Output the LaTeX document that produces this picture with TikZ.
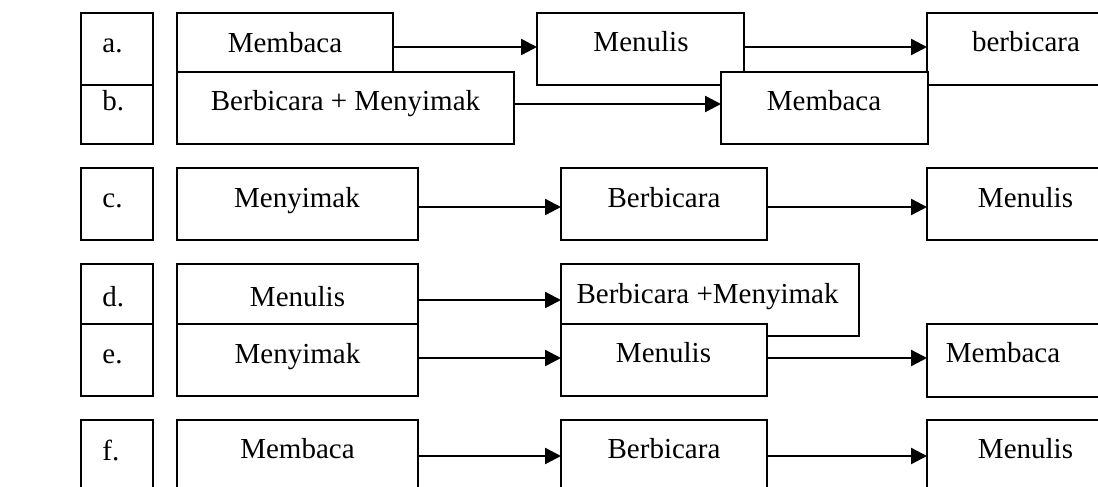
\documentclass[tikz,border=0pt]{standalone}
\usepackage{fontspec}
\setmainfont{Liberation Serif}
\usetikzlibrary{arrows.meta,calc}
\tikzset{
  bx/.style 2 args={draw, fill=white, line width=1.1pt, inner sep=0pt, outer sep=0pt,
    minimum width=#1*0.5pt, minimum height=#2*0.5pt, anchor=north west},
  tx/.style={inner sep=0pt, anchor=base, font=\fontsize{14.5}{17}\selectfont},
  lb/.style={inner sep=0pt, anchor=base west, font=\fontsize{14.5}{17}\selectfont},
  arr/.style={line width=1.2pt, -{Triangle[length=8pt,width=8pt]}}
}
\begin{document}
\begin{tikzpicture}[x=0.5pt,y=-0.5pt]
\useasboundingbox (0,0) rectangle (1098,487);
\clip (0,0) rectangle (1098,487);
% label boxes
\node[bx={72}{72}] (La) at (81,13) {};
\node[bx={72}{59}] (Lb) at (81,85) {};
\node[bx={72}{72}] (Lc) at (81,168) {};
\node[bx={72}{60}] (Ld) at (81,264) {};
\node[bx={72}{72}] (Le) at (81,324) {};
\node[bx={72}{72}] (Lf) at (81,420) {};
% row a
\node[bx={216}{59}] (aM) at (177,13) {};
\node[bx={207}{72}] (aMe) at (537,13) {};
\node[bx={207}{72}] (aB) at (927,13) {};
% row b
\node[bx={337}{72}] (bBM) at (177,72) {};
\node[bx={207}{72}] (bMb) at (721,72) {};
% row c
\node[bx={241}{72}] (cMy) at (177,168) {};
\node[bx={206}{72}] (cB) at (561,168) {};
\node[bx={207}{72}] (cMe) at (927,168) {};
% row d
\node[bx={241}{60}] (dMe) at (177,264) {};
\node[bx={298}{72}] (dBM) at (561,264) {};
% row e
\node[bx={241}{72}] (eMy) at (177,324) {};
\node[bx={206}{72}] (eMe) at (561,324) {};
\node[bx={207}{73}] (eMb) at (927,324) {};
% row f
\node[bx={241}{72}] (fMb) at (177,420) {};
\node[bx={206}{72}] (fB) at (561,420) {};
\node[bx={207}{72}] (fMe) at (927,420) {};
% texts
\node[lb] (ta) at (102,53) {a.};
\node[lb] (tb) at (102,110) {b.};
\node[lb] (tc) at (102,207) {c.};
\node[lb] (td) at (102,306) {d.};
\node[lb] (te) at (102,363) {e.};
\node[lb] (tf) at (102,460) {f.};
\node[tx] (taM) at (285,52) {Membaca};
\node[tx] (taMe) at (641,51) {Menulis};
\node[tx] (taB) at (1026,51) {berbicara};
\node[tx] (tbBM) at (345.5,110) {Berbicara + Menyimak};
\node[tx] (tbMb) at (824,110) {Membaca};
\node[tx] (tcMy) at (297,207) {Menyimak};
\node[tx] (tcB) at (664,207) {Berbicara};
\node[tx] (tcMe) at (1025.5,207) {Menulis};
\node[tx] (tdMe) at (297.5,306) {Menulis};
\node[tx] (tdBM) at (707.5,303) {Berbicara +Menyimak};
\node[tx] (teMy) at (297.5,363) {Menyimak};
\node[tx] (teMe) at (663.5,362) {Menulis};
\node[tx] (teMb) at (1003,362) {Membaca};
\node[tx] (tfMb) at (297.5,458) {Membaca};
\node[tx] (tfB) at (664,458) {Berbicara};
\node[tx] (tfMe) at (1025.5,458) {Menulis};
% arrows
\draw[arr] ($(aM.north east)+(0,34)$) -- ($(aMe.north west)+(0,34)$);
\draw[arr] ($(aMe.north east)+(0,34)$) -- ($(aB.north west)+(0,34)$);
\draw[arr] ($(bBM.north east)+(0,32)$) -- ($(bMb.north west)+(0,32)$);
\draw[arr] ($(cMy.north east)+(0,39)$) -- ($(cB.north west)+(0,39)$);
\draw[arr] ($(cB.north east)+(0,39)$) -- ($(cMe.north west)+(0,39)$);
\draw[arr] ($(dMe.north east)+(0,36)$) -- ($(dBM.north west)+(0,36)$);
\draw[arr] ($(eMy.north east)+(0,34)$) -- ($(eMe.north west)+(0,34)$);
\draw[arr] ($(eMe.north east)+(0,34)$) -- ($(eMb.north west)+(0,34)$);
\draw[arr] ($(fMb.north east)+(0,36)$) -- ($(fB.north west)+(0,36)$);
\draw[arr] ($(fB.north east)+(0,36)$) -- ($(fMe.north west)+(0,36)$);
\end{tikzpicture}
\end{document}
